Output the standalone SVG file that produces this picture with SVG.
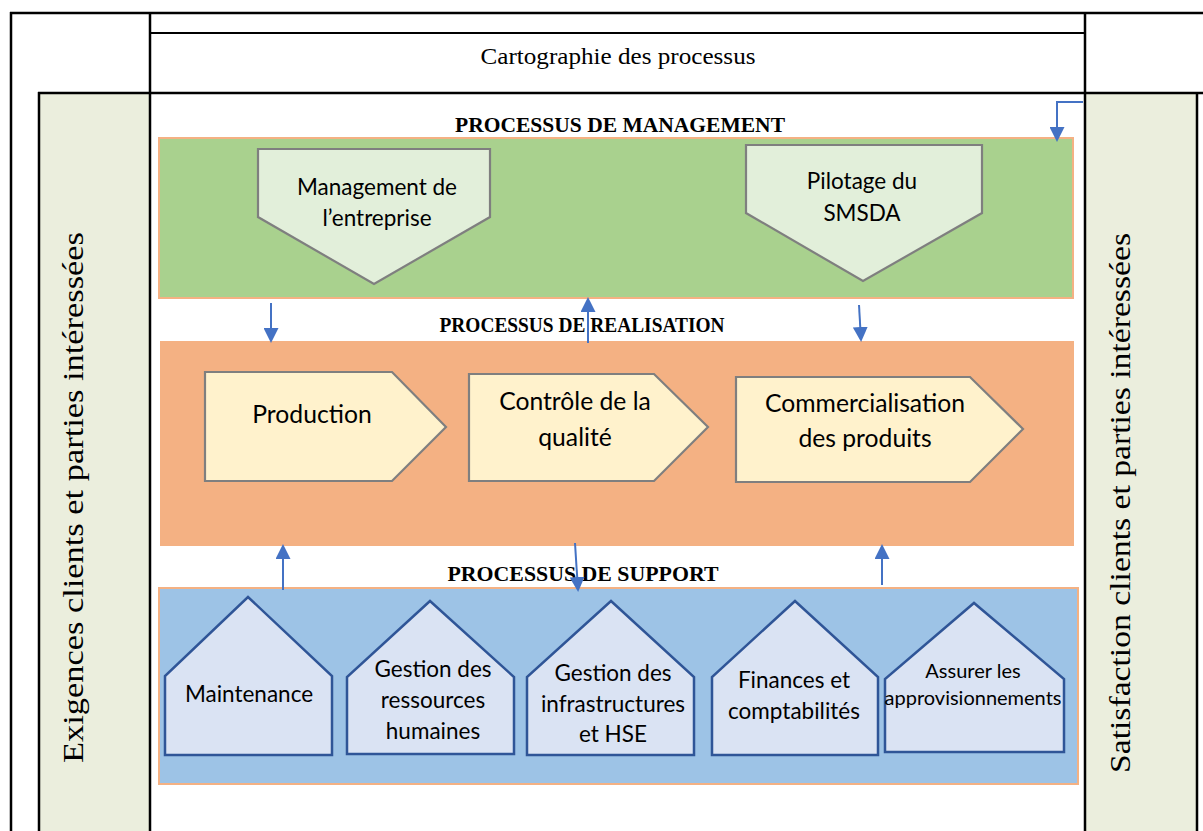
<svg xmlns="http://www.w3.org/2000/svg" width="1203" height="831" viewBox="0 0 1203 831">
  <defs>
    <marker id="ah" viewBox="0 0 15 15" refX="13" refY="7.5" markerWidth="15" markerHeight="15" markerUnits="userSpaceOnUse" orient="auto">
      <path d="M0,0 L15,7.5 L0,15 z" fill="#4472C4"/>
    </marker>
    <style>
      .rule { stroke: #000; stroke-width: 2.5; fill: none; }
      .thin { stroke: #000; stroke-width: 1.8; fill: none; }
      .side { fill: #EBEEDD; }
      .band { stroke: #F4B183; stroke-width: 2; }
      .mgmt { fill: #E2EFDA; stroke: #7F7F7F; stroke-width: 2.2; }
      .real { fill: #FFF2CC; stroke: #7F7F7F; stroke-width: 2.2; }
      .supp { fill: #DAE3F3; stroke: #2F5597; stroke-width: 2.5; }
      .lbl { font-family: Lato, "Liberation Sans", sans-serif; fill: #000; text-anchor: middle; }
      .serif { font-family: "Liberation Serif", "Times New Roman", serif; fill: #000; }
      .title { font-family: "Liberation Serif", "Times New Roman", serif; font-weight: bold; fill: #000; text-anchor: middle; }
      .link { stroke: #4472C4; stroke-width: 2; fill: none; marker-end: url(#ah); }
    </style>
  </defs>

  <rect width="1203" height="831" fill="#fff"/>

  <!-- side columns -->
  <rect class="side" x="39" y="93" width="111" height="738"/>
  <rect class="side" x="1085" y="93" width="112" height="738"/>

  <!-- table rules -->
  <g id="table">
    <line class="rule" x1="10" y1="13" x2="1203" y2="13"/>
    <line class="rule" x1="11" y1="12" x2="11" y2="831"/>
    <line class="rule" x1="150" y1="12" x2="150" y2="831"/>
    <line class="rule" x1="1085" y1="12" x2="1085" y2="831"/>
    <line class="thin" x1="150" y1="33" x2="1085" y2="33"/>
    <line class="rule" x1="38" y1="93" x2="1203" y2="93"/>
    <line class="rule" x1="39" y1="92" x2="39" y2="831"/>
    <line class="rule" x1="1197" y1="92" x2="1197" y2="831"/>
  </g>

  <text class="serif" x="618" y="64" font-size="24" text-anchor="middle" textLength="275" lengthAdjust="spacingAndGlyphs">Cartographie des processus</text>

  <g id="side-left">
    <text class="serif" transform="translate(83,763) rotate(-90)" font-size="30" textLength="531" lengthAdjust="spacingAndGlyphs">Exigences clients et parties intéressées</text>
  </g>
  <g id="side-right">
    <text class="serif" transform="translate(1130,773) rotate(-90)" font-size="30" textLength="540" lengthAdjust="spacingAndGlyphs">Satisfaction clients et parties intéressées</text>
  </g>

  <!-- management band -->
  <g id="management">
    <rect class="band" x="159" y="138" width="914" height="160" fill="#A9D18E"/>
    <text class="title" x="620" y="132" font-size="21" textLength="330" lengthAdjust="spacingAndGlyphs">PROCESSUS DE MANAGEMENT</text>
  </g>
  <g id="n-management">
    <polygon class="mgmt" points="258,149 490,149 490,217 374,284 258,217"/>
    <text class="lbl" x="377" y="195" font-size="22.5">Management de</text>
    <text class="lbl" x="377" y="226" font-size="22.5">l’entreprise</text>
  </g>
  <g id="n-pilotage">
    <polygon class="mgmt" points="746,145 982,145 982,213 863,281 746,213"/>
    <text class="lbl" x="862" y="189" font-size="22.5">Pilotage du</text>
    <text class="lbl" x="862" y="221" font-size="22.5">SMSDA</text>
  </g>

  <!-- realisation band -->
  <g id="realisation">
    <rect x="160" y="341" width="914" height="205" fill="#F4B183"/>
    <text class="title" x="582" y="332" font-size="20" textLength="285" lengthAdjust="spacingAndGlyphs">PROCESSUS DE REALISATION</text>
  </g>
  <g id="n-production">
    <polygon class="real" points="205,372 392,372 446,427 392,481 205,481"/>
    <text class="lbl" x="312" y="423" font-size="24.7">Production</text>
  </g>
  <g id="n-controle">
    <polygon class="real" points="469,374 654,374 708,427 654,481 469,481"/>
    <text class="lbl" x="575" y="410" font-size="24.7">Contrôle de la</text>
    <text class="lbl" x="575" y="446" font-size="24.7">qualité</text>
  </g>
  <g id="n-commercialisation">
    <polygon class="real" points="736,377 970,377 1023,429 970,482 736,482"/>
    <text class="lbl" x="865" y="412" font-size="24.7">Commercialisation</text>
    <text class="lbl" x="865" y="447" font-size="24.7">des produits</text>
  </g>

  <!-- support band -->
  <g id="support">
    <rect class="band" x="159" y="588" width="919" height="196" fill="#9DC3E6"/>
    <text class="title" x="583" y="581" font-size="21" textLength="271" lengthAdjust="spacingAndGlyphs">PROCESSUS DE SUPPORT</text>
  </g>
  <g id="n-maintenance">
    <polygon class="supp" points="165,755 165,676 248,597 332,676 332,755"/>
    <text class="lbl" x="249" y="702" font-size="22.5">Maintenance</text>
  </g>
  <g id="n-rh">
    <polygon class="supp" points="347,754 347,677 430,601 514,677 514,754"/>
    <text class="lbl" x="433" y="677" font-size="22.5">Gestion des</text>
    <text class="lbl" x="433" y="708" font-size="22.5">ressources</text>
    <text class="lbl" x="433" y="739" font-size="22.5">humaines</text>
  </g>
  <g id="n-infra">
    <polygon class="supp" points="527,755 527,677 611,601 694,677 694,755"/>
    <text class="lbl" x="613" y="681" font-size="22.5">Gestion des</text>
    <text class="lbl" x="613" y="712" font-size="22.5">infrastructures</text>
    <text class="lbl" x="613" y="742" font-size="22.5">et HSE</text>
  </g>
  <g id="n-finances">
    <polygon class="supp" points="712,755 712,677 795,601 878,677 878,755"/>
    <text class="lbl" x="794" y="688" font-size="22.5">Finances et</text>
    <text class="lbl" x="794" y="719" font-size="22.5">comptabilités</text>
  </g>
  <g id="n-appro">
    <polygon class="supp" points="885,752 885,679 974,603 1064,679 1064,752"/>
    <text class="lbl" x="973" y="678" font-size="20">Assurer les</text>
    <text class="lbl" x="973" y="705" font-size="20">approvisionnements</text>
  </g>

  <!-- connectors -->
  <g id="connectors">
    <path class="link" d="M1083,102 H1057 V140"/>
    <path class="link" d="M271,303 V341"/>
    <path class="link" d="M588,343 V299"/>
    <path class="link" d="M859,305 L861,340"/>
    <path class="link" d="M283,590 V546"/>
    <path class="link" d="M575,543 L578,590"/>
    <path class="link" d="M882,585 V546"/>
  </g>
</svg>
